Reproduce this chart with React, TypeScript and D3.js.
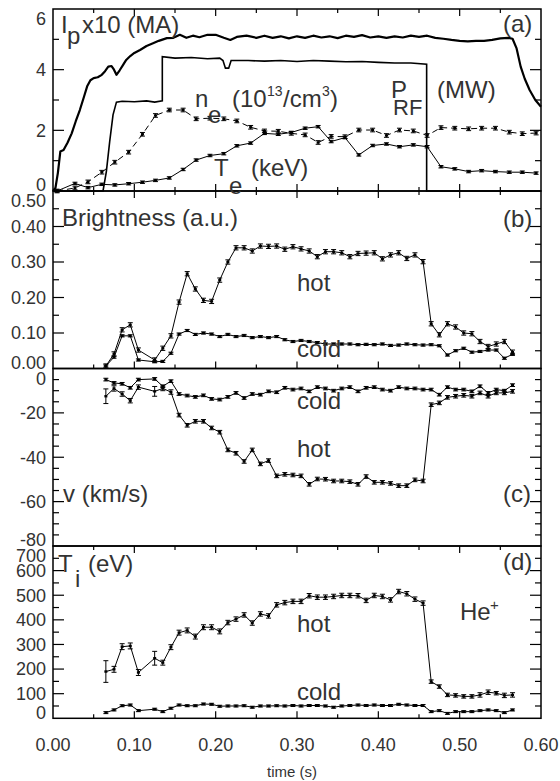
import React, { useEffect, useRef } from "react";
import * as d3 from "d3";

// ---------- panel (a): discharge waveforms ----------
// [time (s), value]
const ipTrace: [number, number][] = [
	[0, 0], [0.003, 0.1], [0.006, 0.6], [0.009, 1.3], [0.013, 1.35], [0.018, 1.6],
	[0.023, 1.9], [0.028, 2.3], [0.033, 2.67], [0.038, 3.1], [0.042, 3.45], [0.046, 3.65],
	[0.05, 3.72], [0.055, 3.75], [0.06, 3.83], [0.064, 3.95], [0.068, 4.1], [0.072, 4.12],
	[0.075, 4.0], [0.078, 3.83], [0.082, 3.98], [0.086, 4.15], [0.09, 4.32], [0.095, 4.45],
	[0.1, 4.55], [0.107, 4.65], [0.115, 4.78], [0.123, 4.87], [0.13, 4.95], [0.14, 5.04],
	[0.148, 5.05], [0.156, 5.15], [0.164, 5.05], [0.172, 5.12], [0.18, 5.07], [0.19, 5.15],
	[0.2, 5.15], [0.21, 5.05], [0.218, 4.98], [0.226, 5.08], [0.238, 5.12], [0.25, 5.05],
	[0.26, 5.12], [0.27, 5.05], [0.28, 5.1], [0.29, 5.03], [0.3, 5.1], [0.31, 5.05],
	[0.32, 5.12], [0.33, 5.06], [0.34, 5.1], [0.35, 5.04], [0.36, 5.12], [0.37, 5.08],
	[0.38, 5.14], [0.39, 5.06], [0.4, 5.1], [0.41, 5.05], [0.42, 5.1], [0.43, 5.06],
	[0.44, 5.12], [0.45, 5.08], [0.46, 5.12], [0.47, 5.05], [0.48, 5.02], [0.49, 4.98],
	[0.5, 4.95], [0.51, 4.93], [0.52, 4.95], [0.53, 4.95], [0.54, 4.98], [0.55, 5.03],
	[0.56, 5.05], [0.565, 5.02], [0.57, 4.7], [0.575, 4.1], [0.58, 3.7], [0.586, 3.33],
	[0.593, 3.0], [0.6, 2.78],
];

const prfTrace: [number, number][] = [
	[0, 0], [0.0615, 0], [0.0656, 0.64], [0.0697, 1.63], [0.0738, 2.51], [0.078, 2.93],
	[0.085, 2.96], [0.1, 2.94], [0.115, 2.97], [0.125, 2.93], [0.1344, 2.97], [0.1344, 4.43],
	[0.15, 4.38], [0.17, 4.4], [0.19, 4.36], [0.205, 4.38], [0.209, 4.3], [0.212, 4.05],
	[0.216, 4.05], [0.219, 4.3], [0.24, 4.3], [0.26, 4.28], [0.28, 4.3], [0.3, 4.27],
	[0.32, 4.3], [0.34, 4.28], [0.36, 4.26], [0.38, 4.27], [0.4, 4.24], [0.42, 4.22],
	[0.44, 4.22], [0.4594, 4.18], [0.4594, 0], [0.6, 0],
];

const profTime = [
	0.005, 0.027, 0.043, 0.06, 0.076, 0.093, 0.11, 0.126, 0.143, 0.16, 0.176, 0.193,
	0.21, 0.226, 0.243, 0.26, 0.277, 0.293, 0.31, 0.326, 0.342, 0.359, 0.376, 0.393,
	0.41, 0.426, 0.443, 0.46, 0.477, 0.494, 0.511, 0.527, 0.544, 0.561, 0.577, 0.594,
];
const neVal = [
	0, 0.1, 0.3, 0.62, 0.95, 1.28, 1.87, 2.49, 2.67, 2.67, 2.38, 2.4,
	2.38, 2.31, 2.1, 1.98, 1.97, 1.9, 1.85, 1.6, 1.8, 1.79, 2.01, 2.01,
	1.83, 2.01, 1.98, 1.83, 2.09, 2.07, 2.05, 2.07, 2.07, 1.94, 1.89, 1.91,
];
const teVal = [
	0, 0.25, 0.11, 0.22, 0.2, 0.24, 0.29, 0.35, 0.43, 0.71, 1.02, 1.17,
	1.23, 1.49, 1.58, 1.9, 1.87, 1.93, 2.07, 2.12, 1.63, 1.76, 1.19, 1.5,
	1.55, 1.46, 1.52, 1.46, 0.8, 0.73, 0.64, 0.67, 0.64, 0.62, 0.62, 0.59,
];

// ---------- panels (b)-(d): He+ line, hot and cold components ----------
const specTime = [
	0.065, 0.075, 0.085, 0.095, 0.105, 0.125, 0.135, 0.145, 0.155, 0.165,
	0.175, 0.185, 0.195, 0.205, 0.215, 0.225, 0.235, 0.245, 0.255, 0.265,
	0.275, 0.285, 0.295, 0.305, 0.315, 0.325, 0.335, 0.345, 0.355, 0.365,
	0.375, 0.385, 0.395, 0.405, 0.415, 0.425, 0.435, 0.445, 0.455, 0.465,
	0.475, 0.485, 0.495, 0.505, 0.515, 0.525, 0.535, 0.545, 0.555, 0.565,
];
const brightHot = [
	0.007, 0.041, 0.109, 0.123, 0.052, 0.024, 0.057, 0.092, 0.187, 0.267,
	0.224, 0.192, 0.189, 0.249, 0.3, 0.34, 0.34, 0.331, 0.345, 0.344,
	0.345, 0.336, 0.343, 0.337, 0.331, 0.315, 0.329, 0.329, 0.326, 0.315,
	0.324, 0.325, 0.326, 0.309, 0.32, 0.326, 0.31, 0.32, 0.301, 0.126,
	0.095, 0.126, 0.117, 0.1, 0.098, 0.076, 0.062, 0.069, 0.076, 0.046,
];
const brightCold = [
	0.007, 0.032, 0.092, 0.092, 0.024, 0.019, 0.02, 0.043, 0.097, 0.107,
	0.096, 0.1, 0.097, 0.09, 0.096, 0.09, 0.093, 0.087, 0.09, 0.087,
	0.09, 0.081, 0.076, 0.079, 0.076, 0.073, 0.069, 0.069, 0.069, 0.069,
	0.067, 0.068, 0.067, 0.069, 0.065, 0.066, 0.069, 0.067, 0.066, 0.067,
	0.064, 0.038, 0.05, 0.057, 0.046, 0.048, 0.052, 0.052, 0.029, 0.04,
];
const velHot = [
	-12.5, -9.0, -11.5, -14.5, -8.4, -10.3, -9.0, -10.6, -21.0, -25.6,
	-23.8, -23.8, -26.8, -28.7, -36.7, -38.2, -41.9, -36.7, -43.0, -41.5,
	-48.4, -47.7, -48.0, -48.4, -52.2, -49.8, -49.9, -50.7, -50.7, -51.0,
	-52.2, -48.7, -51.3, -51.3, -51.8, -52.8, -52.8, -50.2, -50.7, -16.3,
	-15.5, -13.0, -12.5, -12.1, -12.5, -11.0, -12.5, -11.0, -11.0, -10.3,
];
const velHotErr = [
	3.3, 1.2, 1, 1, 1, 2.2, 1, 1, 0.8, 0.8,
	0.8, 0.8, 0.8, 0.8, 0.8, 0.8, 0.8, 0.8, 0.8, 0.8,
	0.8, 0.8, 0.8, 0.8, 0.8, 0.8, 0.8, 0.8, 0.8, 0.8,
	0.8, 0.8, 0.8, 0.8, 0.8, 0.8, 0.8, 0.8, 0.8, 0.8,
	0.8, 0.8, 0.8, 0.8, 0.8, 0.8, 0.8, 0.8, 0.8, 0.8,
];
const velCold = [
	-5.0, -6.5, -6.9, -8.7, -5.0, -4.7, -8.0, -5.7, -11.5, -12.2,
	-12.8, -12.1, -13.7, -14.0, -12.8, -11.0, -13.3, -11.5, -11.8, -10.3,
	-10.7, -8.7, -9.5, -9.0, -10.3, -8.4, -9.0, -10.0, -9.0, -8.4,
	-10.3, -8.7, -8.4, -9.5, -10.0, -8.4, -9.0, -9.0, -9.5, -9.5,
	-11.8, -8.4, -9.5, -9.5, -10.3, -8.0, -11.0, -9.5, -10.0, -7.5,
];
const tiHot = [
	190, 199, 291, 294, 186, 244, 226, 289, 348, 357,
	332, 370, 370, 353, 389, 403, 420, 387, 424, 416,
	461, 470, 475, 475, 498, 492, 492, 495, 499, 499,
	498, 479, 499, 495, 481, 515, 506, 484, 468, 149,
	129, 95, 93, 89, 89, 95, 106, 102, 93, 95,
];
const tiHotErr = [
	44, 12, 12, 12, 12, 28, 10, 10, 10, 10,
	10, 10, 10, 10, 9, 9, 9, 9, 9, 9,
	9, 9, 9, 9, 9, 9, 9, 9, 9, 9,
	9, 9, 9, 9, 9, 9, 9, 9, 9, 7,
	7, 7, 7, 7, 7, 9, 9, 7, 9, 9,
];
const tiCold = [
	23, 34, 51, 54, 31, 37, 27, 41, 54, 51,
	51, 58, 57, 49, 50, 50, 51, 45, 50, 50,
	51, 50, 52, 50, 52, 52, 50, 45, 50, 52,
	54, 52, 54, 52, 52, 57, 54, 52, 52, 27,
	31, 20, 27, 27, 27, 31, 34, 31, 23, 34,
];

// ---------- axes ----------
const timeTicks = [0, 0.1, 0.2, 0.3, 0.4, 0.5, 0.6];
const timeLabels = ["0.00", "0.10", "0.20", "0.30", "0.40", "0.50", "0.60"];
const timeMinor = [0.05, 0.15, 0.25, 0.35, 0.45, 0.55];
const aTicks = [0, 2, 4, 6];
const aLabels = ["0", "2", "4", "6"];
const aMinor = [1, 3, 5];
const bTicks = [0, 0.1, 0.2, 0.3, 0.4, 0.5];
const bLabels = ["0.00", "0.10", "0.20", "0.30", "0.40", "0.50"];
const bMinor = [0.05, 0.15, 0.25, 0.35, 0.45];
const cTicks = [-80, -60, -40, -20, 0];
const cLabels = ["-80", "-60", "-40", "-20", "0"];
const cMinor = [-75, -70, -65, -55, -50, -45, -35, -30, -25, -15, -10, -5];
const dTicks = [0, 100, 200, 300, 400, 500, 600, 700];
const dLabels = ["0", "100", "200", "300", "400", "500", "600", "700"];
const dMinor = [50, 150, 250, 350, 450, 550, 650];

const FONT = "'Liberation Sans', Arial, Helvetica, sans-serif";
const INK = "#333";

const App: React.FC = () => {
	const svgRef = useRef<SVGSVGElement>(null);

	useEffect(() => {
		if (!svgRef.current) return;
		const svg = d3.select(svgRef.current);
		svg.selectAll("*").remove();

		const X0 = 53;
		const X1 = 541;
		const x = d3.scaleLinear().domain([0, 0.6]).range([X0, X1]);

		const ya = d3.scaleLinear().domain([0, 6]).range([191, 9]);
		const yb = d3.scaleLinear().domain([0, 0.5]).range([368.5, 191]);
		const yc = d3.scaleLinear().domain([-80, 0]).range([546, 368.5]);
		const yd = d3.scaleLinear().domain([0, 700]).range([718.3, 546]);

		const txt = (s: string, xx: number, yy: number, size = 24, anchor = "start") =>
			svg
				.append("text")
				.attr("x", xx)
				.attr("y", yy)
				.attr("font-family", FONT)
				.attr("font-size", size)
				.attr("fill", INK)
				.attr("text-anchor", anchor)
				.text(s);

		const panel = (
			y: d3.ScaleLinear<number, number>,
			major: number[],
			labels: string[],
			minor: number[],
			tickTop: boolean,
			tickBottom: boolean
		) => {
			const [bot, top] = y.range();
			const g = svg.append("g").attr("stroke", "#000").attr("stroke-width", 1.2);
			const yTick = (v: number, len: number) => {
				const yy = y(v);
				if (Math.abs(yy - top) < 1 || Math.abs(yy - bot) < 1) return;
				g.append("line").attr("x1", X0).attr("x2", X0 + len).attr("y1", yy).attr("y2", yy);
				g.append("line").attr("x1", X1 - len).attr("x2", X1).attr("y1", yy).attr("y2", yy);
			};
			major.forEach((v) => yTick(v, 11));
			minor.forEach((v) => yTick(v, 6));
			const xTick = (t: number, len: number) => {
				const xx = x(t);
				if (xx <= X0 + 1 || xx >= X1 - 1) return;
				if (tickTop) g.append("line").attr("x1", xx).attr("x2", xx).attr("y1", top).attr("y2", top + len);
				if (tickBottom) g.append("line").attr("x1", xx).attr("x2", xx).attr("y1", bot).attr("y2", bot - len);
			};
			timeTicks.forEach((t) => xTick(t, 7));
			timeMinor.forEach((t) => xTick(t, 4));
			g.append("rect")
				.attr("x", X0)
				.attr("y", top)
				.attr("width", X1 - X0)
				.attr("height", bot - top)
				.attr("fill", "none")
				.attr("stroke-width", 1.5);
			major.forEach((v, i) => {
				let yy = y(v);
				if (Math.abs(yy - top) < 1) yy += 10;
				else if (Math.abs(yy - bot) < 1) yy -= 6;
				txt(labels[i], 46, yy + 6.3, 18, "end");
			});
		};

		panel(ya, aTicks, aLabels, aMinor, true, true);
		panel(yb, bTicks, bLabels, bMinor, true, true);
		panel(yc, cTicks, cLabels, cMinor, false, false);
		panel(yd, dTicks, dLabels, dMinor, true, true);

		timeTicks.forEach((t, i) => txt(timeLabels[i], x(t), 750.5, 18, "middle"));
		txt("time (s)", 292, 777, 15, "middle");

		const line = (y: d3.ScaleLinear<number, number>) =>
			d3
				.line<[number, number]>()
				.x((d) => x(d[0]))
				.y((d) => y(d[1]));

		const series = (
			y: d3.ScaleLinear<number, number>,
			ts: number[],
			vs: number[],
			err: number | number[],
			dash?: string
		) => {
			const pts: [number, number][] = ts.map((t, i) => [t, vs[i]]);
			const g = svg.append("g");
			g.append("path")
				.attr("d", line(y)(pts))
				.attr("fill", "none")
				.attr("stroke", "#000")
				.attr("stroke-width", 1)
				.attr("stroke-dasharray", dash ?? null);
			pts.forEach(([t, v], i) => {
				const e = Array.isArray(err) ? err[i] : err;
				const xx = x(t);
				const y1 = y(v - e);
				const y2 = y(v + e);
				const eb = g.append("g").attr("stroke", "#000").attr("stroke-width", 1);
				eb.append("line").attr("x1", xx).attr("x2", xx).attr("y1", y1).attr("y2", y2);
				eb.append("line").attr("x1", xx - 2.5).attr("x2", xx + 2.5).attr("y1", y1).attr("y2", y1);
				eb.append("line").attr("x1", xx - 2.5).attr("x2", xx + 2.5).attr("y1", y2).attr("y2", y2);
				g.append("rect")
					.attr("x", xx - 1.5)
					.attr("y", y(v) - 1.2)
					.attr("width", 3)
					.attr("height", 2.4)
					.attr("fill", "#000");
			});
		};

		// panel (a)
		svg.append("path")
			.attr("d", line(ya)(ipTrace))
			.attr("fill", "none")
			.attr("stroke", "#000")
			.attr("stroke-width", 2.2)
			.attr("stroke-linejoin", "round");
		svg.append("path")
			.attr("d", line(ya)(prfTrace))
			.attr("fill", "none")
			.attr("stroke", "#000")
			.attr("stroke-width", 1.6);
		series(ya, profTime, neVal, 0.06, "6,4");
		series(ya, profTime, teVal, 0.04);

		// panels (b)-(d)
		series(yb, specTime, brightHot, 0.006);
		series(yb, specTime, brightCold, 0.003);
		series(yc, specTime, velHot, velHotErr);
		series(yc, specTime, velCold, 0.6);
		series(yd, specTime, tiHot, tiHotErr);
		series(yd, specTime, tiCold, 4);

		// annotations
		const sub = (main: string, xx: number, yy: number, s: string, sx: number, sy: number, size = 24) => {
			txt(main, xx, yy, 24);
			txt(s, sx, sy, size);
		};
		sub("I", 61, 33.3, "p", 67, 43.5);
		txt("x10 (MA)", 82, 33.3);
		sub("n", 195, 107.3, "e", 208, 123);
		txt("(10", 232, 107.3);
		txt("13", 267, 96, 14);
		txt("/cm", 283, 107.3);
		txt("3", 322, 96, 14);
		txt(")", 330, 107.3);
		sub("P", 391, 98, "RF", 393, 115, 22);
		txt("(MW)", 437, 98);
		sub("T", 214, 176, "e", 229, 194);
		txt("(keV)", 251, 176);
		txt("(a)", 503, 31.7);

		txt("Brightness (a.u.)", 62, 226);
		txt("(b)", 503, 226.7);
		txt("hot", 297, 291);
		txt("cold", 297, 357);

		txt("cold", 297, 409);
		txt("hot", 297, 457.3);
		txt("v (km/s)", 63, 501.7);
		txt("(c)", 503, 501.7);

		sub("T", 58, 571.7, "i", 75, 586.7);
		txt("(eV)", 88, 571.7);
		txt("(d)", 503, 570);
		txt("He", 460, 620);
		txt("+", 490, 610, 15);
		txt("hot", 297, 632.3);
		txt("cold", 297, 700);
	}, []);

	return (
		<svg
			ref={svgRef}
			width={560}
			height={781}
			style={{ position: "absolute", left: 0, top: 0, background: "#fff" }}
		/>
	);
};

export default App;
